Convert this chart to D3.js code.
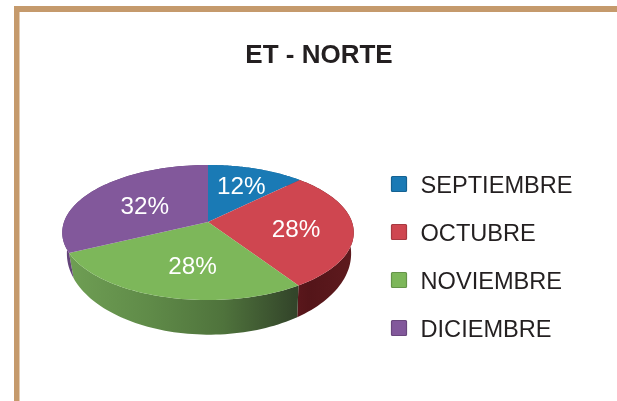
<!DOCTYPE html>
<html><head><meta charset="utf-8">
<script src="https://cdn.jsdelivr.net/npm/d3@7"></script>
<style>html,body{margin:0;padding:0;background:#fff;overflow:hidden}svg{display:block;filter:blur(0.4px)}</style>
</head><body><div id="c"></div>
<script>
const chartTitle = "ET - NORTE";
const categories = ["SEPTIEMBRE","OCTUBRE","NOVIEMBRE","DICIEMBRE"];
const labels = ["12%","28%","28%","32%"];
const values = [12.5,28.3,27.0,32.2];
const colors = ["#1a7ab5","#cf4650","#7db75a","#82589b"];
const sideColors = ["#155f8c","url(#sideRed)","url(#sideGreen)","#64447a"];

const W=617,H=401;
const svg=d3.select("#c").append("svg").attr("width",W).attr("height",H).attr("viewBox",`0 0 ${W} ${H}`);
const defs=svg.append("defs");
function grad(id,stops){
  const g=defs.append("linearGradient").attr("id",id).attr("gradientUnits","userSpaceOnUse")
    .attr("x1",66).attr("x2",352).attr("y1",0).attr("y2",0);
  stops.forEach(s=>g.append("stop").attr("offset",s[0]).attr("stop-color",s[1]));
}
grad("sideGreen",[[0,"#6f9f54"],[0.3,"#5f8a48"],[0.55,"#4f733c"],[0.8,"#33452a"],[1,"#33452a"]]);
grad("sideRed",[[0.7,"#6a1c22"],[0.85,"#541519"],[1,"#5e1a1e"]]);

// frame
const frameColor="#c59a6c";
svg.append("rect").attr("x",14).attr("y",6).attr("width",W-14).attr("height",6).attr("fill",frameColor);
svg.append("rect").attr("x",14).attr("y",6).attr("width",5.5).attr("height",H-6).attr("fill",frameColor);

svg.append("text").attr("x",319).attr("y",63).attr("text-anchor","middle")
  .attr("font-family","Liberation Sans").attr("font-weight","bold").attr("font-size",26)
  .attr("fill","#231f20").text(chartTitle);

// projection of the tilted disc
const cx=208,cy=222,rx=144,ry=65.9,k=0.1556;
const sx=d3.scaleLinear().domain([-1,1]).range([cx-rx,cx+rx]);
const sy=d3.scaleLinear().domain([-1,1]).range([cy-ry,cy+ry]);
const sxB=d3.scaleLinear().domain([-1,1]).range([cx+1-rx*0.975,cx+1+rx*0.975]);
const syB=d3.scaleLinear().domain([-1,1]).range([cy+19-ry*1.2,cy+19+ry*1.2]);
function proj(a,r,xs,ys){
  const u=r*Math.sin(a),v=-r*Math.cos(a),w=1-k*v;
  return [xs(u/w),ys(v/w)];
}
const upper=(a,r=1)=>proj(a,r,sx,sy), lower=a=>proj(a,1,sxB,syB);
const pathLine=d3.line();
const arcs=d3.pie().sort(null)(values);
const steps=a=>d3.range(0,61).map(i=>a.startAngle+(a.endAngle-a.startAngle)*i/60);

svg.append("g").selectAll("path").data(arcs).join("path")
  .attr("d",a=>{const s=steps(a);return pathLine([...s.map(t=>upper(t)),...s.slice().reverse().map(lower)])+"Z";})
  .attr("fill",(a,i)=>sideColors[i]);

svg.append("g").selectAll("path").data(arcs).join("path")
  .attr("d",a=>pathLine([upper(0,0),...steps(a).map(t=>upper(t))])+"Z")
  .attr("fill",(a,i)=>colors[i]);

// value labels
const labelR=[0.66,0.61,0.61,0.53];
const labelShift=[0,0.05,-0.11,-0.03];
const labelPos=(a,i)=>upper((a.startAngle+a.endAngle)/2+labelShift[i],labelR[i]);
svg.append("g").selectAll("text").data(arcs).join("text")
  .attr("x",(a,i)=>labelPos(a,i)[0])
  .attr("y",(a,i)=>labelPos(a,i)[1]+8.5)
  .attr("text-anchor","middle").attr("font-family","Liberation Sans").attr("font-size",24.3)
  .attr("fill","#fff").text((a,i)=>labels[i]);

// legend
const ly=d3.scalePoint().domain(categories).range([184,328]);
const lg=svg.append("g").selectAll("g").data(categories).join("g").attr("transform",d=>`translate(0,${ly(d)})`);
lg.append("rect").attr("x",391.5).attr("y",-7.5).attr("width",15).attr("height",15).attr("rx",1)
  .attr("fill",(d,i)=>colors[i]).attr("stroke",(d,i)=>d3.color(colors[i]).darker(0.6)).attr("stroke-width",1.2);
lg.append("text").attr("x",420.5).attr("y",9).attr("font-family","Liberation Sans").attr("font-size",23.6)
  .attr("fill","#231f20").text(d=>d);
</script></body></html>
